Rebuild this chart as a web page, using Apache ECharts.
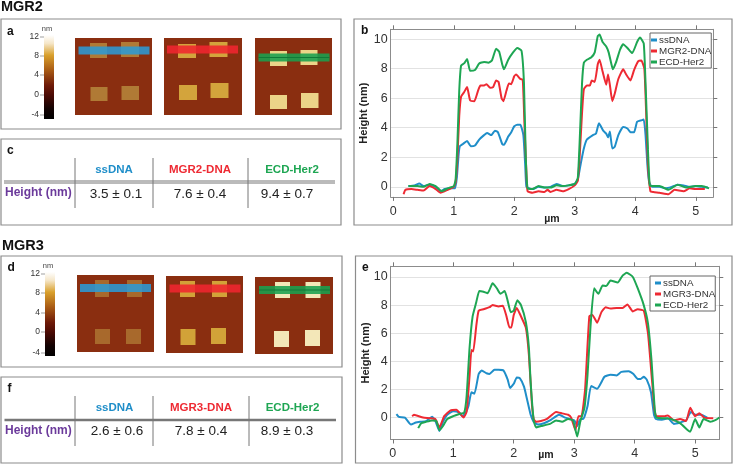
<!DOCTYPE html>
<html><head><meta charset="utf-8">
<script src="https://cdn.jsdelivr.net/npm/echarts@6/dist/echarts.min.js"></script>
<style>html,body{margin:0;padding:0;background:#fff}#c{width:734px;height:464px}</style>
</head><body><div id="c"></div>
<script>
const ssDNA2=[[0.25,0.05],[0.35,0.1],[0.43,0.22],[0.5,0.05],[0.6,0.15],[0.7,0],[0.78,-0.3],[0.85,-0.15],[0.95,-0.1],[1.02,-0.1],[1.05,0.6],[1.08,2.2],[1.1,2.75],[1.15,2.9],[1.22,3.1],[1.28,2.75],[1.35,2.8],[1.42,3.2],[1.5,3.5],[1.55,3.65],[1.62,3.5],[1.68,3.8],[1.73,3.7],[1.8,2.9],[1.83,2.85],[1.9,3.4],[1.95,3.7],[2.0,4.1],[2.05,4.2],[2.1,4.2],[2.15,3.5],[2.18,1.5],[2.2,0],[2.25,-0.1],[2.3,-0.15],[2.4,0],[2.5,-0.05],[2.6,0],[2.7,0.2],[2.8,0.05],[2.9,0.1],[3.0,0.2],[3.05,0.5],[3.1,1.6],[3.15,2.6],[3.2,3.2],[3.3,3.5],[3.35,3.6],[3.4,4.3],[3.47,3.8],[3.52,3.6],[3.55,3.35],[3.58,3.75],[3.62,2.6],[3.66,2.7],[3.72,3.5],[3.8,4.05],[3.87,3.95],[3.92,3.7],[3.98,3.7],[4.03,4.4],[4.1,4.5],[4.14,4.55],[4.17,3.5],[4.2,1.5],[4.23,0.3],[4.28,0],[4.4,0],[4.5,-0.1],[4.6,0],[4.7,0.15],[4.8,0.1],[4.9,0],[5,0.05],[5.1,0],[5.2,-0.05]];
const mgr2DNA=[[0.17,-0.5],[0.2,-0.2],[0.3,-0.15],[0.4,-0.2],[0.5,-0.25],[0.6,0.05],[0.7,-0.15],[0.78,-0.4],[0.9,-0.2],[1.0,0],[1.03,0.3],[1.06,2],[1.09,4.8],[1.12,6.1],[1.17,6.4],[1.22,6.75],[1.27,5.85],[1.34,5.8],[1.4,6.5],[1.44,6.85],[1.5,6.85],[1.54,6.95],[1.6,6.7],[1.65,6.75],[1.7,7.2],[1.74,7.1],[1.79,6.0],[1.82,5.8],[1.87,6.5],[1.91,7.0],[1.95,6.95],[2.0,7.5],[2.03,7.6],[2.1,7.3],[2.14,7.25],[2.17,4],[2.2,1],[2.22,-0.3],[2.3,-0.4],[2.4,-0.3],[2.5,-0.35],[2.55,-0.2],[2.6,-0.35],[2.7,-0.2],[2.8,-0.3],[2.9,-0.15],[3.0,0.1],[3.05,0.4],[3.08,2],[3.12,5],[3.15,6.6],[3.2,6.85],[3.25,6.85],[3.28,7.2],[3.33,7.1],[3.38,8.3],[3.41,8.6],[3.46,7.8],[3.52,6.9],[3.55,7.6],[3.58,6.9],[3.62,5.8],[3.66,6.3],[3.72,7.3],[3.8,7.95],[3.85,7.6],[3.92,7.2],[3.98,7.9],[4.05,8.5],[4.1,8.55],[4.15,8.0],[4.18,5],[4.21,1.5],[4.25,-0.3],[4.3,-0.35],[4.4,-0.4],[4.55,-0.5],[4.65,-0.2],[4.8,-0.3],[4.9,-0.1],[5,-0.15],[5.15,-0.15]];
const ecd2=[[0.25,0.05],[0.4,0.05],[0.5,0],[0.6,0.2],[0.7,0.05],[0.8,-0.3],[0.9,-0.1],[1.0,0.05],[1.03,0.5],[1.06,3],[1.09,6.5],[1.12,8.2],[1.17,8.35],[1.22,8.65],[1.27,7.85],[1.35,7.9],[1.42,8.35],[1.5,8.45],[1.57,8.4],[1.63,8.55],[1.7,9.35],[1.75,9.15],[1.8,8.3],[1.83,7.95],[1.9,8.6],[1.98,9.1],[2.05,9.4],[2.12,9.2],[2.16,7],[2.19,2],[2.22,-0.1],[2.3,-0.15],[2.4,0.05],[2.5,-0.05],[2.6,-0.05],[2.7,0.1],[2.8,0.05],[2.9,0.1],[3.0,0.2],[3.05,0.6],[3.08,3],[3.12,7],[3.15,8.4],[3.2,8.6],[3.27,8.75],[3.33,9.1],[3.38,10.2],[3.41,10.3],[3.46,9.8],[3.52,9.5],[3.56,9.1],[3.6,8.4],[3.63,7.95],[3.68,8.4],[3.75,9.3],[3.8,9.65],[3.87,9.4],[3.95,9.05],[4.03,9.8],[4.08,10.1],[4.14,9.7],[4.17,7],[4.21,2.5],[4.24,0.1],[4.3,0.05],[4.4,0.05],[4.55,-0.2],[4.7,0.15],[4.85,-0.05],[5,0.05],[5.1,0.05],[5.22,-0.1]];
const ssDNA3=[[0.06,0.25],[0.1,0.05],[0.2,0],[0.3,-0.5],[0.38,-0.35],[0.45,-0.3],[0.55,-0.25],[0.65,0.05],[0.7,-0.2],[0.77,-0.95],[0.83,-0.3],[0.9,0.2],[1,0.45],[1.1,0.35],[1.15,0.1],[1.2,0.3],[1.25,0.8],[1.3,1.8],[1.35,1.7],[1.42,3.1],[1.47,3.35],[1.55,3.15],[1.6,3.1],[1.68,3.4],[1.75,3.4],[1.83,3.35],[1.9,2.7],[1.94,2.1],[2.0,2.4],[2.05,2.85],[2.1,2.8],[2.17,2.2],[2.22,1.3],[2.28,0.2],[2.33,-0.3],[2.4,-0.5],[2.5,-0.4],[2.6,-0.2],[2.75,0.2],[2.85,0],[3.0,-0.2],[3.05,-0.6],[3.1,-0.1],[3.15,-0.1],[3.22,0.8],[3.28,2.25],[3.38,2.05],[3.5,2.9],[3.6,3.05],[3.7,3],[3.78,3.25],[3.9,3.3],[3.98,3.1],[4.05,2.75],[4.1,2.75],[4.15,2.9],[4.2,2.7],[4.27,1.8],[4.32,0.2],[4.35,-0.1],[4.45,-0.15],[4.55,-0.05],[4.65,-0.45],[4.75,-0.35],[4.85,-0.2],[4.93,0.4],[5.0,0.2],[5.1,0.2],[5.2,0]];
const mgr3DNA=[[0.32,0.1],[0.35,0.2],[0.5,0],[0.7,-0.1],[0.77,-0.7],[0.85,0.1],[0.95,0.5],[1.05,0.55],[1.13,0.2],[1.17,0],[1.22,0.4],[1.27,3],[1.3,4.8],[1.33,4.7],[1.38,6.5],[1.42,7.6],[1.5,7.7],[1.6,7.85],[1.65,8],[1.75,7.9],[1.82,7.95],[1.88,7.2],[1.93,6.4],[1.96,6.4],[2.0,7.3],[2.05,7.8],[2.12,7.2],[2.2,6.4],[2.25,4.5],[2.3,1],[2.33,-0.1],[2.37,-0.3],[2.45,-0.25],[2.55,-0.1],[2.7,0.4],[2.8,0.3],[2.9,0.2],[2.95,0],[3.02,-0.9],[3.07,0.1],[3.12,0.1],[3.18,2],[3.25,7.2],[3.3,7.3],[3.38,6.75],[3.45,7.5],[3.52,7.85],[3.6,7.75],[3.7,7.8],[3.8,7.8],[3.88,8.05],[3.97,7.55],[4.05,7.7],[4.15,7.6],[4.22,6],[4.28,3],[4.33,0.5],[4.36,0.1],[4.5,0.1],[4.55,0.15],[4.65,-0.2],[4.75,-0.1],[4.85,-0.25],[4.92,0.7],[5,0.1],[5.07,0.3],[5.15,0],[5.3,-0.05]];
const ecd3=[[0.42,-0.75],[0.47,-0.4],[0.55,-0.3],[0.65,-0.2],[0.72,-0.25],[0.77,-0.9],[0.83,-0.6],[0.9,-0.1],[1,0.1],[1.1,0.25],[1.18,0.35],[1.22,1.5],[1.27,5],[1.32,7.2],[1.38,8.2],[1.43,9],[1.5,8.95],[1.57,8.85],[1.65,9.55],[1.72,9.2],[1.78,8.8],[1.85,9],[1.9,8.3],[1.95,7.5],[2,7.6],[2.06,8.35],[2.12,8],[2.2,6.8],[2.25,5],[2.28,2.5],[2.33,-0.2],[2.37,-0.7],[2.45,-0.6],[2.6,-0.45],[2.7,-0.2],[2.8,-0.3],[2.9,-0.1],[2.98,-0.2],[3.05,-1.35],[3.1,-0.3],[3.17,0.7],[3.22,3],[3.27,6.5],[3.33,9.2],[3.4,8.8],[3.47,9.4],[3.53,9.35],[3.6,9.75],[3.72,9.6],[3.8,10.1],[3.87,10.3],[3.97,10],[4.05,9.2],[4.15,8],[4.22,6.7],[4.28,4],[4.33,0.7],[4.36,0],[4.5,-0.05],[4.6,-0.1],[4.75,-0.4],[4.88,-0.9],[4.92,-1],[5,-0.1],[5.07,-0.7],[5.14,-0.1],[5.25,-0.3],[5.35,-0.15],[5.4,0]];
const xTicks=[0,1,2,3,4,5];
const yTicks=[0,2,4,6,8,10];
const colorbarTicks=[12,8,4,0,-4];
const tableMGR2={head:['ssDNA','MGR2-DNA','ECD-Her2'],vals:['3.5 ± 0.1','7.6 ± 0.4','9.4 ± 0.7']};
const tableMGR3={head:['ssDNA','MGR3-DNA','ECD-Her2'],vals:['2.6 ± 0.6','7.8 ± 0.4','8.9 ± 0.3']};

const BLUE='#1f8ec9',RED='#ee2a33',GREEN='#1ea653',FONT='"Liberation Sans",Arial,sans-serif';
const g=[];
const box=(x,y,w,h,c)=>g.push({type:'rect',silent:true,shape:{x,y,width:w,height:h},style:{fill:'none',stroke:c||'#8c8c8c',lineWidth:1.2}});
const fillr=(x,y,w,h,c,o)=>g.push({type:'rect',silent:true,shape:{x,y,width:w,height:h},style:{fill:c,opacity:o==null?1:o}});
const txt=(t,x,y,o)=>g.push({type:'text',silent:true,x,y,style:Object.assign({text:t,font:'12px '+FONT,fill:'#222',textAlign:'left',textVerticalAlign:'middle'},o||{})});
const line=(x1,y1,x2,y2,c,w)=>g.push({type:'line',silent:true,shape:{x1,y1,x2,y2},style:{stroke:c,lineWidth:w}});
const font=(s,b)=>(b?'bold ':'')+s+'px '+FONT;

txt('MGR2',1,7,{font:font(14.5,true),fill:'#111'});
txt('MGR3',2,246,{font:font(14.5,true),fill:'#111'});
box(1,19,340,110);box(1,139,340,86);box(1,256,341,111);box(1,377,341,86);box(354,19,378,206);box(355.5,256,376.5,207);
[['a',7,32],['c',7,151],['d',7.5,268],['f',7.5,389],['b',361,31],['e',362,268]].forEach(p=>txt(p[0],p[1],p[2],{font:font(12,true),fill:'#111'}));

function colorbar(x,y,h,ly,ny){
  g.push({type:'rect',silent:true,shape:{x,y,width:10,height:h},style:{fill:new echarts.graphic.LinearGradient(0,0,0,1,[{offset:0,color:'#fff'},{offset:.1,color:'#f5e6c8'},{offset:.24,color:'#d9a02c'},{offset:.42,color:'#a85a14'},{offset:.6,color:'#6e1a08'},{offset:.72,color:'#4a0a04'},{offset:.88,color:'#120202'},{offset:1,color:'#000'}])}});
  txt('nm',x+3,ny,{font:font(7.5),textAlign:'center',fill:'#444'});
  colorbarTicks.forEach((t,i)=>{txt(String(t),x-5,ly[i],{font:font(8.5),textAlign:'right',fill:'#333'});line(x-4,ly[i],x,ly[i],'#777',.7);});
}
colorbar(44,35,84,[37,56,75,95,115],29);
colorbar(45,272,84,[274,293,313,332,353],266);

const SUB='#8a2e10';
function afm(x,y,w,h,squares,sc,barY,barC,bx,bw,dark){
  fillr(x,y,w,h,SUB);
  squares.forEach(s=>fillr(s[0],s[1],s[2],s[3],sc));
  fillr(bx,barY,bw,8,barC,.88);
  if(dark) line(bx,barY+4,bx+bw,barY+4,'#0f7a38',1.2);
}
afm(75,38,77,77,[[90,43,17,15],[121,42,18,15],[90.5,87,17,14],[121.5,86,17.5,14]],'#b07a35',46.5,'#2c9ad4',78.5,71);
afm(164,38,78,77,[[178,44,18,14],[209.5,42,18,15],[179,85,18,15],[210.5,83,18,15]],'#d3a43c',45.5,'#f0262f',167,71);
afm(255,38,77,77,[[270,51,17,15],[300.5,50,17,15],[270,95,17,14],[301,93,17.5,15]],'#ecd488',53.5,'#19a04f',258.5,71,true);
afm(77,275,77,77,[[95,280,14,17],[127,280,15,17],[95,329,15,15],[126,329,15,15]],'#a8692c',284,'#2c9ad4',80,71);
afm(166,276,77,77,[[180,281,15,16],[212,281,15,16],[180.5,329,15,16],[211,328,15,16]],'#d2a238',284.5,'#f0262f',169.5,71);
afm(255,277,78,77,[[275,282,15,16],[305.5,282,15,16],[274,331,15,16],[305,330,15,16]],'#f3e7b8',286,'#19a04f',259,71,true);

function table(t,vy,lineY,headY,valY,labY,xs,headX,valX,dbl){
  xs.forEach(x=>line(x,vy[0],x,vy[1],'#666',.9));
  if(dbl){line(4,lineY-1,335,lineY-1,'#777',1);line(4,lineY+1,335,lineY+1,'#777',1);}
  else line(4.5,lineY,336,lineY,'#777',2.6);
  [BLUE,RED,GREEN].forEach((c,i)=>{
    txt(t.head[i],headX[i],headY,{font:font(11.5,true),fill:c,textAlign:'center'});
    txt(t.vals[i],valX[i],valY,{font:font(13.5),fill:'#222',textAlign:'center'});
  });
  txt('Height (nm)',5,labY,{font:font(12,true),fill:'#6b3a9b'});
}
table(tableMGR2,[158,208],182,170,194,193,[75,153,248],[114,200,292],[116,200,287],true);
table(tableMGR3,[396,446],420,408,431,431,[75,153,249],[114.5,201,292.5],[117,201,287],false);

const grids=[
 {left:390.7,top:29.3,width:322.6,height:167.6,xr:[-0.043,5.29],yr:[-0.68,10.66]},
 {left:390.7,top:266.3,width:328.6,height:173.2,xr:[-0.035,5.4],yr:[-1.56,10.76]}];
const xAxes=[],yAxes=[];
grids.forEach((G,i)=>{
  const tickS={show:true,customValues:xTicks,length:4,inside:false,lineStyle:{color:'#777',width:1}};
  const lab={color:'#333',fontSize:12.5,fontFamily:FONT,customValues:xTicks,margin:8};
  const al={show:true,onZero:false,lineStyle:{color:'#8c8c8c',width:1}};
  xAxes.push({type:'value',gridIndex:i,min:G.xr[0],max:G.xr[1],position:'bottom',name:'µm',nameLocation:'middle',nameGap:i?10:17,nameMoveOverlap:false,
    nameTextStyle:{fontWeight:'bold',fontSize:10.5,fontFamily:FONT,color:'#222',padding:i?[0,18,0,0]:0},
    axisLine:al,axisTick:tickS,axisLabel:lab,splitLine:{show:false}});
  xAxes.push({type:'value',gridIndex:i,min:G.xr[0],max:G.xr[1],position:'top',
    axisLine:al,axisTick:tickS,axisLabel:{show:false},splitLine:{show:false}});
  yAxes.push({type:'value',gridIndex:i,min:G.yr[0],max:G.yr[1],position:'left',name:'Height (nm)',nameLocation:'middle',nameGap:i?19.5:21.5,nameRotate:90,nameMoveOverlap:false,
    nameTextStyle:{fontWeight:'bold',fontSize:11,fontFamily:FONT,color:'#222'},
    axisLine:al,axisTick:{show:false,customValues:yTicks},
    axisLabel:{color:'#333',fontSize:12.5,fontFamily:FONT,customValues:yTicks,margin:3},
    splitLine:{show:true,lineStyle:{color:'#e2e2e2',width:1}}});
  yAxes.push({type:'value',gridIndex:i,min:G.yr[0],max:G.yr[1],position:'right',
    axisLine:al,axisTick:{show:true,customValues:yTicks,length:4,lineStyle:{color:'#777',width:1}},
    axisLabel:{show:false},splitLine:{show:false}});
});
const S=(name,data,color,i)=>({type:'line',name,data,xAxisIndex:i*2,yAxisIndex:i*2,showSymbol:false,symbol:'none',smooth:.15,
  lineStyle:{color,width:2},itemStyle:{color},animation:false,z:3});
const legendBase=(data,left,top,pad,iw)=>({data,left,top,orient:'vertical',padding:[2,0,1,pad],itemGap:1,itemWidth:iw,itemHeight:3,icon:'rect',
  borderColor:'#666',borderWidth:1,backgroundColor:'#fff',selectedMode:false,textStyle:{fontSize:9.8,fontFamily:FONT,color:'#333',padding:[0,0,0,-3]},z:10});
echarts.init(document.getElementById('c')).setOption({
  animation:false,backgroundColor:'#fff',
  grid:grids.map(G=>({left:G.left,top:G.top,width:G.width,height:G.height,containLabel:false,outerBoundsMode:'none',show:false})),
  xAxis:xAxes,yAxis:yAxes,
  legend:[legendBase(['ssDNA','MGR2-DNA','ECD-Her2'],650,33,1,6),legendBase(['ssDNA','MGR3-DNA','ECD-Her2'],650,276,5,6)],
  series:[S('ssDNA',ssDNA2,BLUE,0),S('MGR2-DNA',mgr2DNA,RED,0),S('ECD-Her2',ecd2,GREEN,0),
          S('ssDNA',ssDNA3,BLUE,1),S('MGR3-DNA',mgr3DNA,RED,1),S('ECD-Her2',ecd3,GREEN,1)],
  graphic:g
});
</script></body></html>
